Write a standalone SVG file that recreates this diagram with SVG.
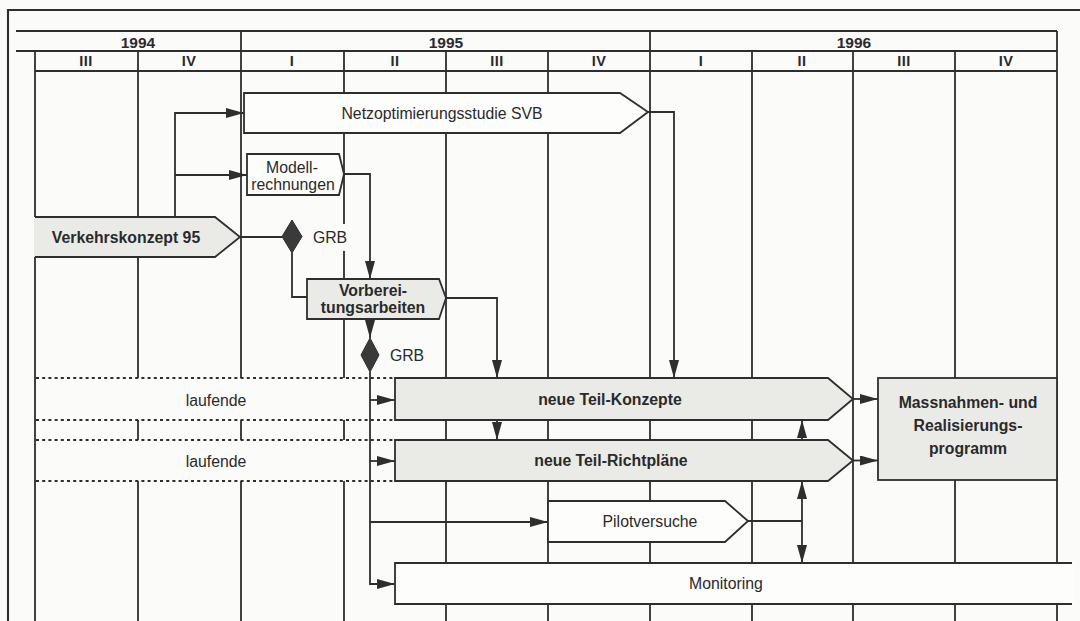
<svg xmlns="http://www.w3.org/2000/svg" width="1080" height="621" viewBox="0 0 1080 621">
<defs>
<marker id="ah" viewBox="0 0 18 10" markerWidth="18" markerHeight="10" markerUnits="userSpaceOnUse" refX="18" refY="5" orient="auto-start-reverse">
<path d="M0,0 L18,5 L0,10 Z" fill="#2e2e2e"/>
</marker>
<style>
.ln{stroke:#2e2e2e;stroke-width:1.8;fill:none}
.hd{stroke:#2e2e2e;stroke-width:2.1;fill:none}
.dot{stroke:#2e2e2e;stroke-width:2;stroke-dasharray:3 3.2;fill:none}
.wbox{fill:#fdfdfc;stroke:#2e2e2e;stroke-width:1.8}
.gbox{fill:#eaeae7;stroke:#2e2e2e;stroke-width:1.8}
.con{stroke:#2e2e2e;stroke-width:1.8;fill:none}
.arr{marker-end:url(#ah)}
.t{font-family:"Liberation Sans",Arial,sans-serif;font-size:15.8px;fill:#2a2a2a;text-anchor:middle}
.b{font-weight:bold}
.yr{font-family:"Liberation Sans",Arial,sans-serif;font-size:15.5px;font-weight:bold;fill:#2a2a2a;text-anchor:middle}
.q{font-family:"Liberation Sans",Arial,sans-serif;font-size:14.5px;font-weight:bold;fill:#2a2a2a;text-anchor:middle;letter-spacing:0.5px}
.dia{fill:#3a3a3a;stroke:#2e2e2e;stroke-width:1}
</style>
</defs>
<rect x="0" y="0" width="1080" height="621" fill="#fbfbfa"/>

<g id="grid">
<path class="hd" d="M8,621 V10 H1080"/>
<path class="hd" d="M16,31 H1057 M16,51 H1057 M35,71 H1057"/>
<path class="ln" d="M35,51 V621 M138,51 V621 M241,31 V621 M344,51 V621 M446,51 V621 M548,51 V621 M650,31 V621 M752,51 V621 M853,51 V621 M955,51 V621 M1057,31 V621"/>
<text class="yr" x="138" y="48">1994</text>
<text class="yr" x="446" y="48">1995</text>
<text class="yr" x="854" y="48">1996</text>
<text class="q" x="86" y="66">III</text>
<text class="q" x="189" y="66">IV</text>
<text class="q" x="292" y="66">I</text>
<text class="q" x="395" y="66">II</text>
<text class="q" x="497" y="66">III</text>
<text class="q" x="599" y="66">IV</text>
<text class="q" x="701" y="66">I</text>
<text class="q" x="802" y="66">II</text>
<text class="q" x="904" y="66">III</text>
<text class="q" x="1006" y="66">IV</text>
</g>

<g id="laufende-1">
<rect x="36" y="378" width="359" height="42" fill="#fbfbfa"/>
<path class="dot" d="M36,378 H395 M36,420 H395"/>
<text class="t" x="216" y="406">laufende</text>
</g>
<g id="laufende-2">
<rect x="36" y="440" width="359" height="41" fill="#fbfbfa"/>
<path class="dot" d="M36,440 H395 M36,481 H395"/>
<text class="t" x="216" y="467">laufende</text>
</g>

<g id="verkehrskonzept">
<path d="M34,217 H215 L240,237 L215,257 H34 Z" fill="#eaeae7"/>
<path class="ln" d="M35,217 H215 L240,237 L215,257 H35"/>
<text class="t b" x="126" y="243">Verkehrskonzept 95</text>
</g>

<g id="netzoptimierung">
<path class="wbox" d="M244,93 H620 L648,112 L620,133 H244 Z"/>
<text class="t" x="442" y="119">Netzoptimierungsstudie SVB</text>
</g>

<g id="modellrechnungen">
<path class="wbox" d="M247,154 H339 L344,174 L339,195 H247 Z"/>
<text class="t" x="292" y="173">Modell-</text>
<text class="t" x="293" y="190">rechnungen</text>
</g>

<g id="grb-1">
<rect x="309" y="224" width="42" height="27" fill="#fbfbfa"/>
<polygon class="dia" points="292,220 302,236.5 292,253 282,236.5"/>
<text class="t" x="330" y="243">GRB</text>
</g>

<g id="vorbereitung">
<path class="gbox" d="M307,279 H439 L446,298 L439,319 H307 Z"/>
<text class="t b" x="373" y="296">Vorberei-</text>
<text class="t b" x="373" y="313">tungsarbeiten</text>
</g>

<g id="grb-2">
<polygon class="dia" points="370,338 379,355 370,372 361,355"/>
<text class="t" x="407" y="361">GRB</text>
</g>

<g id="teil-konzepte">
<path class="gbox" d="M395,378 H828 L853,399 L828,420 H395 Z"/>
<text class="t b" x="610" y="405">neue Teil-Konzepte</text>
</g>

<g id="teil-richtplaene">
<path class="gbox" d="M395,440 H828 L853,460.5 L828,481 H395 Z"/>
<text class="t b" x="611" y="466">neue Teil-Richtpläne</text>
</g>

<g id="massnahmen">
<rect class="gbox" x="878" y="378" width="179" height="102"/>
<text class="t b" x="968" y="408">Massnahmen- und</text>
<text class="t b" x="968" y="431">Realisierungs-</text>
<text class="t b" x="968" y="454">programm</text>
</g>

<g id="pilotversuche">
<path class="wbox" d="M548,501 H725 L748,521 L725,542 H548 Z"/>
<text class="t" x="650" y="527">Pilotversuche</text>
</g>

<g id="monitoring">
<rect x="395" y="563" width="680" height="41" fill="#fdfdfc"/>
<path class="ln" d="M1072,563 H395 V604 H1072"/>
<text class="t" x="726" y="589">Monitoring</text>
</g>

<g id="connectors">
<path class="con arr" d="M175,217 V113 H244"/>
<path class="con arr" d="M175,175 H247"/>
<path class="con arr" d="M648,112 H674 V378"/>
<path class="con arr" d="M344,174 H370 V279"/>
<path class="con" d="M240,237 H282"/>
<path class="con" d="M292,253 V297 H307"/>
<path class="con arr" d="M446,298 H497 V378"/>
<path class="con arr" d="M370,319 V338"/>
<path class="con arr" d="M370,372 V584 H395"/>
<path class="con arr" d="M370,400 H395"/>
<path class="con arr" d="M370,461 H395"/>
<path class="con arr" d="M370,522 H548"/>
<path class="con arr" d="M497,420 V440"/>
<path class="con arr" d="M802,440 V420"/>
<path class="con" d="M748,521 H802"/>
<path class="con arr" d="M802,481 V563" marker-start="url(#ah)"/>
<path class="con arr" d="M853,399 H878"/>
<path class="con arr" d="M853,460.5 H878"/>
</g>
</svg>
